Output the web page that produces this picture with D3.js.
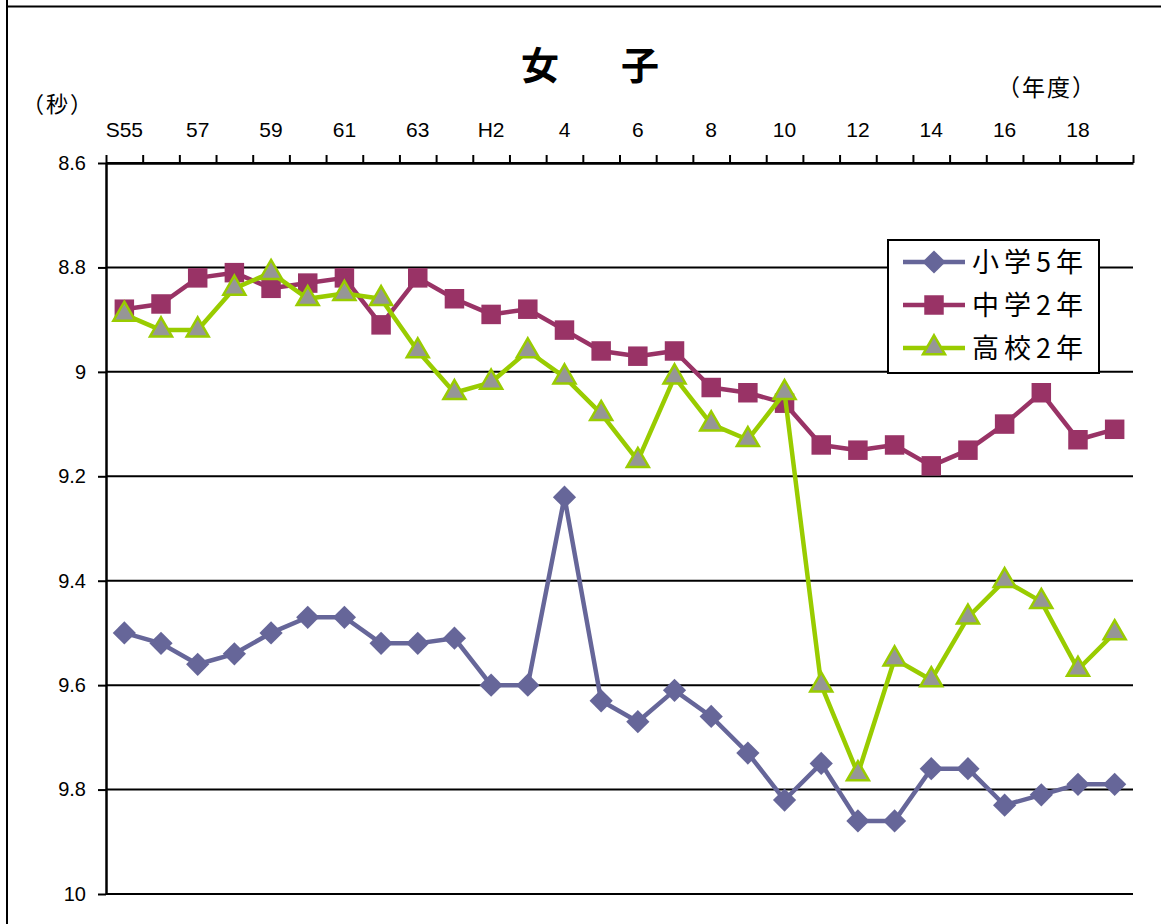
<!DOCTYPE html>
<html>
<head>
<meta charset="utf-8">
<script src="https://cdn.jsdelivr.net/npm/d3@7"></script>
<style>
  body { margin: 0; background: #fff; }
  svg { display: block; }
</style>
</head>
<body>
<div id="chart"></div>
<script>
// fiscal years S55 .. H19 (S64 = H1)
var years = ["S55","56","57","58","59","60","61","62","63","H1","H2","3","4","5","6","7","8","9","10","11","12","13","14","15","16","17","18","19"];
var yTicks = [8.6, 8.8, 9, 9.2, 9.4, 9.6, 9.8, 10];

var shogaku5 = [9.50,9.52,9.56,9.54,9.50,9.47,9.47,9.52,9.52,9.51,9.60,9.60,9.24,9.63,9.67,9.61,9.66,9.73,9.82,9.75,9.86,9.86,9.76,9.76,9.83,9.81,9.79,9.79];
var chugaku2 = [8.88,8.87,8.82,8.81,8.84,8.83,8.82,8.91,8.82,8.86,8.89,8.88,8.92,8.96,8.97,8.96,9.03,9.04,9.06,9.14,9.15,9.14,9.18,9.15,9.10,9.04,9.13,9.11];
var koko2 = [8.89,8.92,8.92,8.84,8.81,8.86,8.85,8.86,8.96,9.04,9.02,8.96,9.01,9.08,9.17,9.01,9.10,9.13,9.04,9.60,9.77,9.55,9.59,9.47,9.40,9.44,9.57,9.50];

var seriesNames = ["小学5年", "中学2年", "高校2年"];

function drawChart() {
    var w = 1161, h = 924;
    var pLeft = 106, pRight = 1133, pTop = 163, pBottom = 894;

    var svg = d3.select("#chart").append("svg")
        .attr("width", w)
        .attr("height", h);

    // outer frame (only top and left edges are visible)
    svg.append("line").attr("x1", 7).attr("x2", w).attr("y1", 6.5).attr("y2", 6.5)
        .attr("stroke", "#000").attr("stroke-width", 2);
    svg.append("line").attr("x1", 7).attr("x2", 7).attr("y1", 0).attr("y2", h)
        .attr("stroke", "#000").attr("stroke-width", 2);

    var x = d3.scaleBand().domain(years).range([pLeft, pRight]).padding(0);
    var xb = d3.scaleLinear().domain([0, years.length]).range([pLeft, pRight]);
    var y = d3.scaleLinear().domain([8.6, 10]).range([pTop, pBottom]);

    // gridlines
    svg.append("g")
        .selectAll("line")
        .data(yTicks)
        .enter()
        .append("line")
        .attr("x1", pLeft).attr("x2", pRight)
        .attr("y1", function (d) { return y(d); })
        .attr("y2", function (d) { return y(d); })
        .attr("stroke", "#000")
        .attr("stroke-width", 2);

    // y axis
    var yAxis = svg.append("g")
        .attr("transform", "translate(" + pLeft + ",0)")
        .call(d3.axisLeft(y).tickValues(yTicks).tickSize(8).tickSizeOuter(0).tickPadding(12)
            .tickFormat(function (d) { return String(+d.toFixed(1)); }));
    yAxis.select(".domain").attr("stroke-width", 2.5);
    yAxis.selectAll(".tick line").attr("stroke-width", 2);
    yAxis.selectAll("text")
        .style("font-family", "'Liberation Sans', Arial, sans-serif")
        .style("font-size", "20px")
        .attr("fill", "#000");

    // x axis on top, ticks at category boundaries
    var xAxis = svg.append("g")
        .attr("transform", "translate(0," + pTop + ")")
        .call(d3.axisTop(xb).tickValues(d3.range(years.length + 1)).tickSize(8).tickSizeOuter(0).tickFormat(""));
    xAxis.select(".domain").attr("stroke-width", 2.5);
    xAxis.selectAll(".tick line").attr("stroke-width", 2);

    svg.append("g")
        .selectAll("text")
        .data(years.filter(function (d, i) { return i % 2 === 0; }))
        .enter()
        .append("text")
        .attr("x", function (d) { return x(d) + x.bandwidth() / 2; })
        .attr("y", 137)
        .attr("text-anchor", "middle")
        .style("font-family", "'Liberation Sans', Arial, sans-serif")
        .style("font-size", "21px")
        .text(function (d) { return d; });

    // title and units
    svg.append("text")
        .attr("x", 596).attr("y", 79)
        .attr("text-anchor", "middle")
        .style("font-family", "'Noto Sans CJK JP', sans-serif")
        .style("font-size", "38px")
        .style("font-weight", "bold")
        .style("letter-spacing", "12px")
        .text("女　子");

    svg.append("text")
        .attr("x", 22).attr("y", 112)
        .style("font-family", "'Noto Sans CJK JP', sans-serif")
        .style("font-size", "22px")
        .style("letter-spacing", "2px")
        .text("（秒）");

    svg.append("text")
        .attr("x", 997).attr("y", 96)
        .style("font-family", "'Noto Sans CJK JP', sans-serif")
        .style("font-size", "23px")
        .style("letter-spacing", "2px")
        .text("（年度）");

    var series = [
        { name: seriesNames[0], values: shogaku5, color: "#666699", shape: d3.symbolSquare, size: 270, rotate: 45, fill: "#666699", stroke: "none" },
        { name: seriesNames[1], values: chugaku2, color: "#993366", shape: d3.symbolSquare, size: 380, rotate: 0, fill: "#993366", stroke: "none" },
        { name: seriesNames[2], values: koko2, color: "#99cc00", shape: d3.symbolTriangle, size: 210, rotate: 0, fill: "#969696", stroke: "#99cc00" }
    ];

    var line = d3.line()
        .x(function (d, i) { return x(years[i]) + x.bandwidth() / 2; })
        .y(function (d) { return y(d); });

    series.forEach(function (s) {
        var g = svg.append("g");
        g.append("path")
            .attr("d", line(s.values))
            .attr("fill", "none")
            .attr("stroke", s.color)
            .attr("stroke-width", 4.5)
            .attr("stroke-linejoin", "round");
        g.selectAll("path.marker")
            .data(s.values)
            .enter()
            .append("path")
            .attr("class", "marker")
            .attr("d", d3.symbol().type(s.shape).size(s.size))
            .attr("transform", function (d, i) {
                return "translate(" + (x(years[i]) + x.bandwidth() / 2) + "," + y(d) + ") rotate(" + s.rotate + ")";
            })
            .attr("fill", s.fill)
            .attr("stroke", s.stroke)
            .attr("stroke-width", 2.5);
    });

    // legend
    var legend = svg.append("g").attr("transform", "translate(888,240)");
    legend.append("rect")
        .attr("width", 211).attr("height", 133)
        .attr("fill", "#fff")
        .attr("stroke", "#000")
        .attr("stroke-width", 2);

    series.forEach(function (s, i) {
        var row = legend.append("g").attr("transform", "translate(0," + (22 + i * 43) + ")");
        row.append("line")
            .attr("x1", 15).attr("x2", 77)
            .attr("stroke", s.color)
            .attr("stroke-width", 4.5);
        row.append("path")
            .attr("d", d3.symbol().type(s.shape).size(s.size))
            .attr("transform", "translate(46,0) rotate(" + s.rotate + ")")
            .attr("fill", s.fill)
            .attr("stroke", s.stroke)
            .attr("stroke-width", 2.5);
        row.append("text")
            .attr("x", 84).attr("y", 10)
            .style("font-family", "'Noto Sans CJK JP', sans-serif")
            .style("font-size", "27px")
            .style("letter-spacing", "5px")
            .text(s.name);
    });
}

drawChart();
</script>
</body>
</html>
